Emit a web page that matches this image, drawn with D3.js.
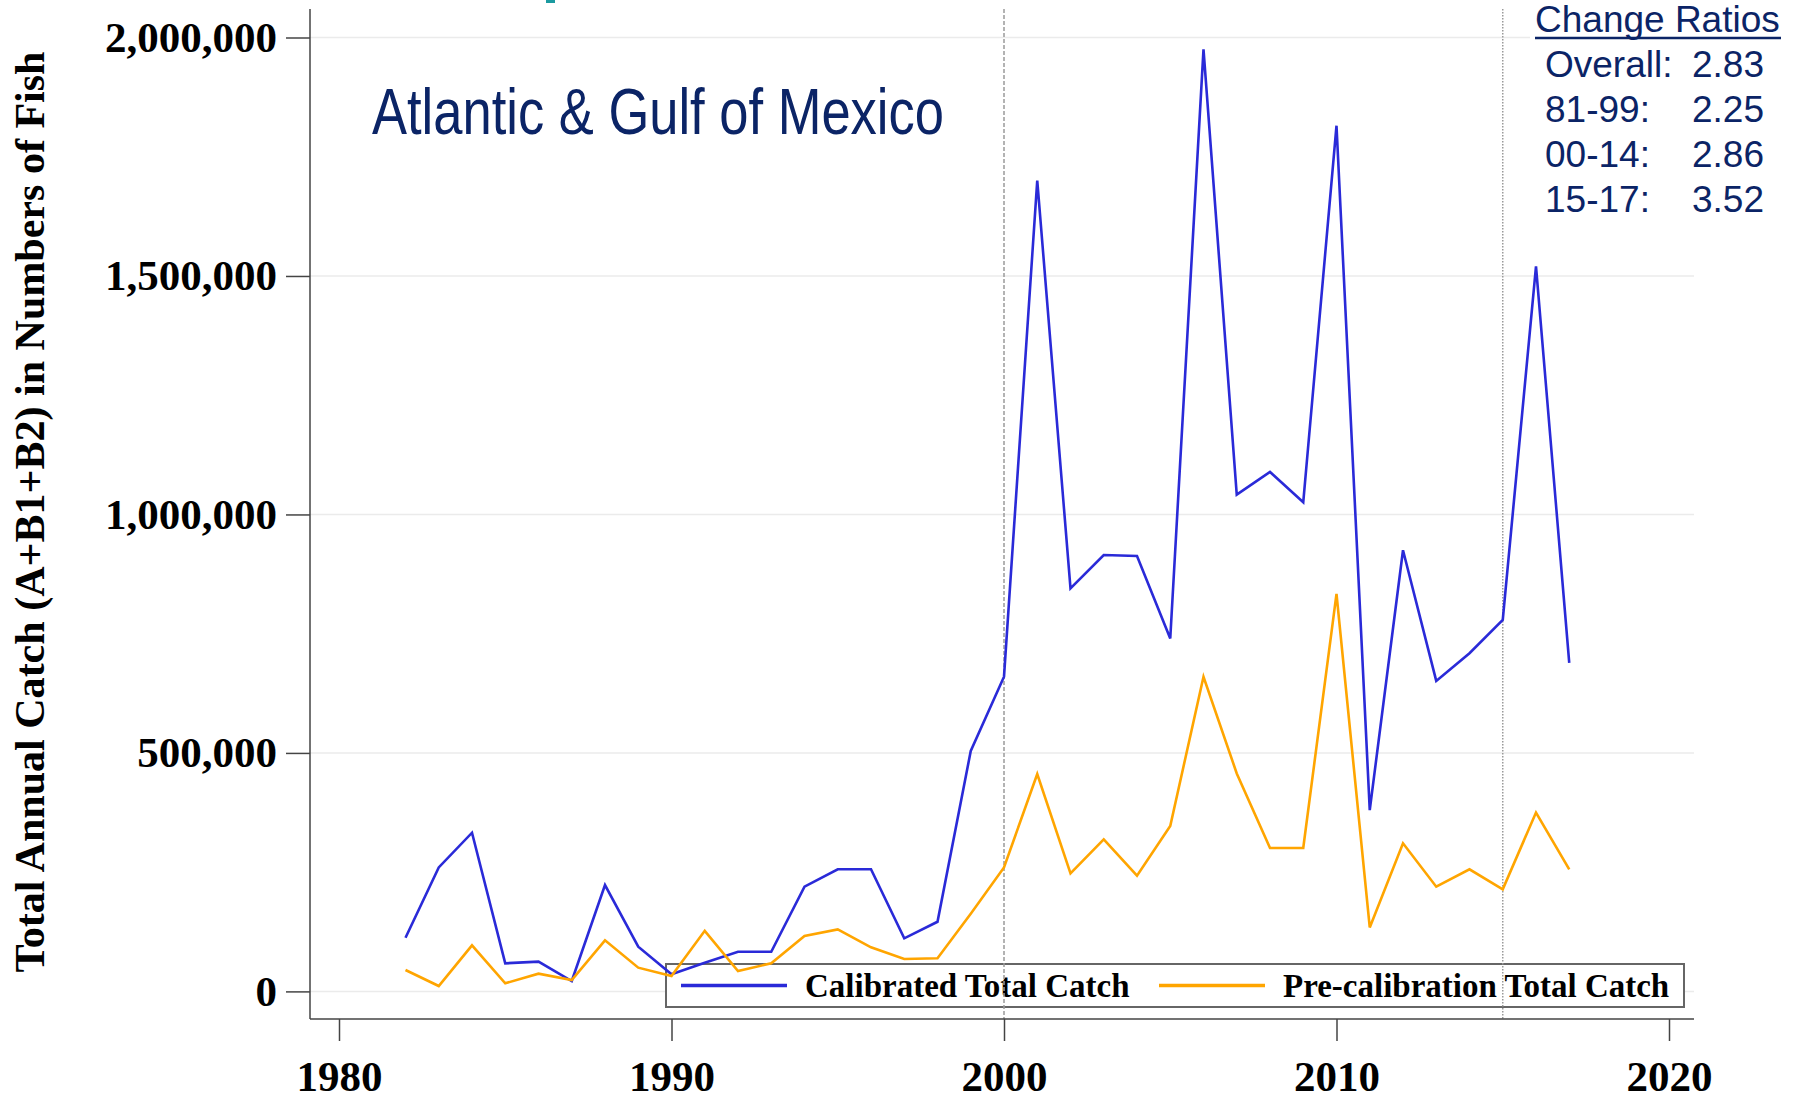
<!DOCTYPE html>
<html>
<head>
<meta charset="utf-8">
<script src="https://cdn.jsdelivr.net/npm/d3@7"></script>
<style>
  body { margin: 0; background: #fff; }
  svg { display: block; }
</style>
</head>
<body>
<div id="graph"></div>
<script>
var svgWidth = 1795;
var svgHeight = 1100;

// data
var years = d3.range(1982, 2018);
var calibrated = [112600, 260000, 332700, 58900, 62300, 21800, 223000, 93800, 35800, 60000,
  83200, 83200, 219500, 256000, 256000, 111300, 146000, 504000, 659800, 1700000,
  845000, 915000, 913000, 740000, 1975000, 1041500, 1089000, 1025600, 1815000, 380000,
  925000, 651000, 709000, 779000, 1520000, 689000];
var precalibration = [44900, 11300, 96600, 17000, 37200, 23900, 107000, 49800, 32300, 127000,
  42800, 58900, 116000, 130000, 92400, 67900, 69400, 163000, 260000, 455800,
  247600, 318900, 242600, 346700, 659800, 457000, 300600, 300600, 833600, 134000,
  310500, 219500, 256000, 214000, 375000, 256000];

var seriesNames = ["Calibrated Total Catch", "Pre-calibration Total Catch"];
var seriesColors = ["#2a2ad8", "#ffa500"];

var yTicks = [0, 500000, 1000000, 1500000, 2000000];
var xTicks = [1980, 1990, 2000, 2010, 2020];
var periodBreaks = [2000, 2015];

var ratioLabels = ["Overall:", "81-99:", "00-14:", "15-17:"];
var ratioValues = ["2.83", "2.25", "2.86", "3.52"];

var title = "Atlantic & Gulf of Mexico";
var yTitle = "Total Annual Catch (A+B1+B2) in Numbers of Fish";

var serif = "'Liberation Serif', 'Times New Roman', serif";
var sans = "'Liberation Sans', Arial, sans-serif";
var navy = "#0b2466";

var frame = { left: 310, right: 1694, top: 9, bottom: 1019 };

var svg = d3.select("#graph")
  .append("svg")
  .attr("width", svgWidth)
  .attr("height", svgHeight);

var x = d3.scaleLinear().domain([1980, 2020]).range([339, 1669]);
var y = d3.scaleLinear().domain([0, 2000000]).range([991.4, 37.5]);

// gridlines
svg.append("g").selectAll("line")
  .data(yTicks)
  .enter()
  .append("line")
  .attr("x1", frame.left)
  .attr("x2", frame.right)
  .attr("y1", d => y(d))
  .attr("y2", d => y(d))
  .attr("stroke", "#ebebeb")
  .attr("stroke-width", 1.5);

// white box behind the ratios
svg.append("rect")
  .attr("x", 1530).attr("y", 0)
  .attr("width", svgWidth - 1530).attr("height", 225)
  .attr("fill", "#fff");

// legend box (lines cross over it)
var legend = svg.append("g");
legend.append("rect")
  .attr("x", 666).attr("y", 964)
  .attr("width", 1018).attr("height", 43)
  .attr("fill", "#fff")
  .attr("stroke", "#666")
  .attr("stroke-width", 2);

// period break lines
svg.append("g").selectAll("line")
  .data(periodBreaks)
  .enter()
  .append("line")
  .attr("x1", d => x(d))
  .attr("x2", d => x(d))
  .attr("y1", frame.top)
  .attr("y2", frame.bottom)
  .attr("stroke", "#9a9a9a")
  .attr("stroke-width", 1.5)
  .attr("stroke-dasharray", (d, i) => i == 0 ? "4,2" : "1.5,1.5");

// axes
var yAxis = d3.axisLeft(y)
  .tickValues(yTicks)
  .tickSize(24)
  .tickPadding(9)
  .tickFormat(d3.format(","));

var gy = svg.append("g")
  .attr("transform", `translate(${frame.left}, 0)`)
  .call(yAxis);

var xAxis = d3.axisBottom(x)
  .tickValues(xTicks)
  .tickSize(22)
  .tickPadding(19)
  .tickFormat(d3.format("d"));

var gx = svg.append("g")
  .attr("transform", `translate(0, ${frame.bottom})`)
  .call(xAxis);

[gx, gy].forEach(g => {
  g.select(".domain").remove();
  g.selectAll(".tick line").attr("stroke", "#444").attr("stroke-width", 1.5);
  g.selectAll(".tick text")
    .attr("fill", "#000")
    .style("font-family", serif)
    .style("font-weight", "bold")
    .style("font-size", "43px");
});

svg.append("line")
  .attr("x1", frame.left).attr("x2", frame.left)
  .attr("y1", frame.top).attr("y2", frame.bottom)
  .attr("stroke", "#444").attr("stroke-width", 1.5);
svg.append("line")
  .attr("x1", frame.left).attr("x2", frame.right)
  .attr("y1", frame.bottom).attr("y2", frame.bottom)
  .attr("stroke", "#444").attr("stroke-width", 1.5);

// lines
var line = d3.line()
  .x(d => x(d[0]))
  .y(d => y(d[1]));

[calibrated, precalibration].forEach((vals, i) => {
  svg.append("path")
    .datum(years.map((yr, j) => [yr, vals[j]]))
    .attr("d", line)
    .attr("fill", "none")
    .attr("stroke", seriesColors[i])
    .attr("stroke-width", 2.6);
});

// legend entries
var legendX = [681, 1159];
seriesNames.forEach((name, i) => {
  legend.append("line")
    .attr("x1", legendX[i]).attr("x2", legendX[i] + 106)
    .attr("y1", 985.5).attr("y2", 985.5)
    .attr("stroke", seriesColors[i])
    .attr("stroke-width", 3.5);
  legend.append("text")
    .attr("x", legendX[i] + 124)
    .attr("y", 997)
    .style("font-family", serif)
    .style("font-weight", "bold")
    .style("font-size", "33px")
    .text(name);
});

// axis title
svg.append("text")
  .attr("transform", "translate(44, 512) rotate(-90)")
  .attr("text-anchor", "middle")
  .style("font-family", serif)
  .style("font-weight", "bold")
  .style("font-size", "42px")
  .attr("textLength", 921)
  .attr("lengthAdjust", "spacingAndGlyphs")
  .text(yTitle);

// panel title
svg.append("text")
  .attr("x", 372)
  .attr("y", 134)
  .attr("fill", navy)
  .style("font-family", "'Liberation Sans Narrow', 'Arial Narrow', " + sans)
  .style("font-size", "64px")
  .attr("textLength", 572)
  .attr("lengthAdjust", "spacingAndGlyphs")
  .text(title);

// change ratios
svg.append("text")
  .attr("x", 1535)
  .attr("y", 32)
  .attr("fill", navy)
  .style("font-family", sans)
  .style("font-size", "37px")
  .text("Change Ratios");
svg.append("line")
  .attr("x1", 1535).attr("x2", 1781)
  .attr("y1", 38).attr("y2", 38)
  .attr("stroke", navy)
  .attr("stroke-width", 2.5);

ratioLabels.forEach((lab, i) => {
  svg.append("text")
    .attr("x", 1545)
    .attr("y", 77 + i * 45)
    .attr("fill", navy)
    .style("font-family", sans)
    .style("font-size", "37px")
    .text(lab);
  svg.append("text")
    .attr("x", 1764)
    .attr("y", 77 + i * 45)
    .attr("text-anchor", "end")
    .attr("fill", navy)
    .style("font-family", sans)
    .style("font-size", "37px")
    .text(ratioValues[i]);
});

// clipped teal mark at the top edge
svg.append("rect")
  .attr("x", 546).attr("y", 0)
  .attr("width", 9).attr("height", 3)
  .attr("fill", "#1b9aa0");
</script>
</body>
</html>
